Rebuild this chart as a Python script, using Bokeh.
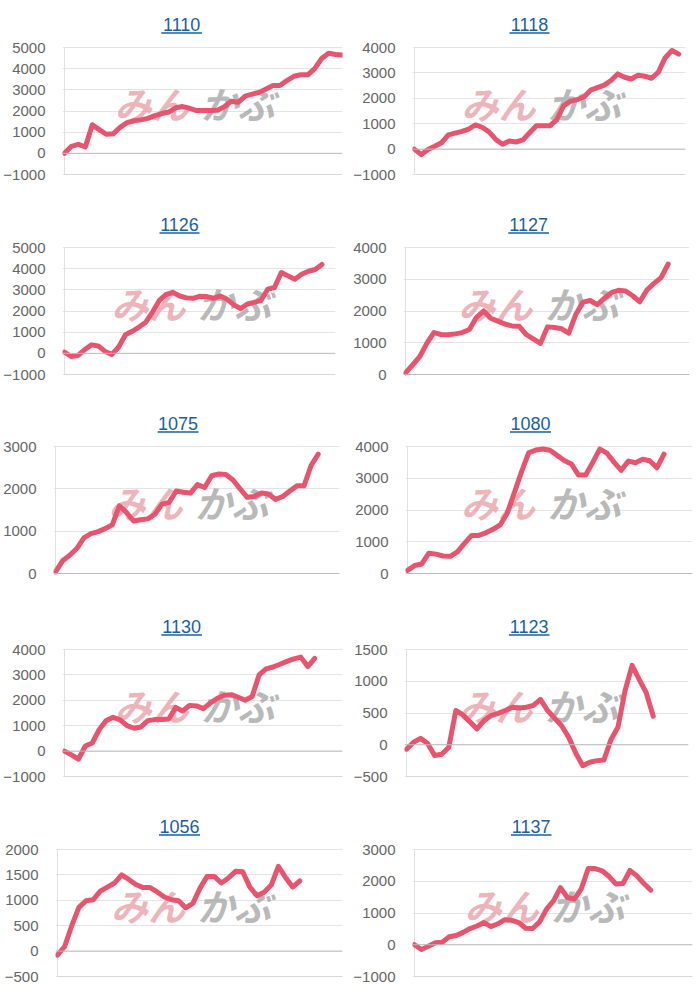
from bokeh.plotting import figure
from bokeh.models import Range1d, FixedTicker, Span
from bokeh.layouts import column, row
from bokeh.embed import file_html
from bokeh.resources import INLINE
from bokeh.core.properties import value

# ---------------- data ----------------
titles = ["1110", "1118", "1126", "1127", "1075", "1080", "1130", "1123", "1056", "1137"]

s1110 = [0, 330, 420, 300, 1350, 1120, 900, 920, 1230, 1450, 1540, 1580, 1650, 1780, 1880,
         1950, 2150, 2210, 2130, 2020, 2020, 2020, 2040, 2200, 2460, 2410, 2700, 2800, 2880,
         3040, 3200, 3200, 3440, 3640, 3710, 3710, 4000, 4480, 4730, 4670, 4650]
s1118 = [0, -220, -20, 110, 250, 560, 630, 700, 790, 950, 860, 680, 380, 190, 320, 280, 360,
         640, 920, 920, 920, 1150, 1700, 1880, 1950, 2050, 2320, 2420, 2520, 2700, 2960, 2830,
         2760, 2910, 2870, 2790, 3030, 3600, 3880, 3740]
s1126 = [60, -150, -100, 180, 400, 350, 90, -50, 300, 880, 1040, 1240, 1470, 1950, 2500, 2780,
         2880, 2710, 2620, 2600, 2700, 2680, 2600, 2710, 2550, 2290, 2110, 2330, 2410, 2500,
         3030, 3110, 3820, 3660, 3500, 3740, 3880, 3960, 4200]
s1127 = [50, 300, 560, 980, 1320, 1260, 1250, 1280, 1320, 1420, 1800, 2000, 1770, 1680, 1590,
         1530, 1520, 1260, 1120, 980, 1500, 1480, 1440, 1300, 1900, 2280, 2330, 2200, 2400,
         2580, 2650, 2630, 2480, 2290, 2660, 2870, 3050, 3480]
s1075 = [40, 300, 430, 590, 840, 940, 990, 1060, 1150, 1600, 1440, 1240, 1270, 1290, 1400,
         1640, 1680, 1950, 1920, 1900, 2100, 2030, 2310, 2350, 2340, 2210, 2000, 1800, 1820,
         1900, 1880, 1750, 1820, 1950, 2070, 2070, 2550, 2820]
s1080 = [100, 250, 300, 640, 610, 550, 540, 680, 950, 1200, 1200, 1280, 1390, 1530, 1900,
         2550, 3200, 3800, 3890, 3920, 3880, 3720, 3560, 3450, 3100, 3100, 3500, 3920, 3790,
         3500, 3250, 3540, 3490, 3600, 3550, 3330, 3760]
s1130 = [0, -150, -320, 200, 320, 850, 1200, 1330, 1230, 1000, 900, 950, 1200, 1240, 1240,
         1260, 1720, 1580, 1800, 1780, 1670, 1900, 2080, 2200, 2220, 2120, 2000, 2150, 3000,
         3240, 3310, 3420, 3530, 3630, 3700, 3330, 3650]
s1123 = [-70, 40, 100, 20, -170, -150, -40, 540, 470, 360, 250, 380, 460, 495, 540, 590, 580,
         590, 620, 715, 540, 420, 300, 120, -130, -330, -275, -250, -240, 80, 280, 850, 1250,
         1030, 820, 450]
s1056 = [-80, 90, 500, 860, 990, 1010, 1180, 1260, 1340, 1500, 1410, 1310, 1250, 1250, 1165,
         1065, 1010, 990, 850, 940, 1240, 1470, 1470, 1340, 1440, 1570, 1560, 1260, 1090, 1160,
         1300, 1670, 1450, 1260, 1380]
s1137 = [0, -150, -50, 60, 80, 250, 290, 390, 510, 590, 700, 570, 660, 790, 770, 700, 520, 510,
         720, 1120, 1380, 1800, 1490, 1440, 1760, 2400, 2400, 2330, 2150, 1910, 1930, 2340,
         2170, 1930, 1720]

series = [s1110, s1118, s1126, s1127, s1075, s1080, s1130, s1123, s1056, s1137]

y_min = [-1000, -1000, -1000, 0, 0, 0, -1000, -500, -500, -1000]
y_max = [5000, 4000, 5000, 4000, 3000, 4000, 4000, 1500, 2000, 3000]
y_step = [1000, 1000, 1000, 1000, 1000, 1000, 1000, 500, 500, 1000]
n_slots = 41

# ---------------- layout / style ----------------
frame_left = [62, 57, 57, 53, 54, 57, 62, 53, 57, 61]
frame_right = [8, 15, 15, 11, 11, 8, 8, 12, 8, 8]
row_top = [47, 47, 46, 49, 49]
title_x = [180, 175, 175, 177, 177, 180, 180, 177, 179, 179]

W, H, FH = 350, 200, 127
PAD_L, PAD_B, PAD_T = 2, 16, 4
LINE = "#e8536e"
TITLE_C = "#1a5fa0"
GRID_C = "#e4e4e4"
FONT = "Liberation Sans"
CJK = "Noto Sans CJK JP"


def make(i):
    top = row_top[i // 2]
    pw = W - frame_left[i] - frame_right[i]
    kx = (n_slots - 1) / pw
    ky = (y_max[i] - y_min[i]) / FH
    y_lo = y_min[i] - PAD_B * ky
    y_hi = y_max[i] + (top - PAD_T) * ky
    p = figure(width=W, height=H, output_backend="svg", toolbar_location=None,
               x_axis_location=None,
               x_range=Range1d(-PAD_L * kx, n_slots - 1), y_range=Range1d(y_lo, y_hi),
               min_border_left=frame_left[i] - PAD_L, min_border_right=frame_right[i],
               min_border_top=PAD_T, min_border_bottom=H - top - FH - PAD_B,
               background_fill_color="white", border_fill_color="white")
    p.outline_line_color = None
    p.xgrid.visible = False
    ticks = list(range(y_min[i], y_max[i] + 1, y_step[i]))
    p.yaxis.ticker = FixedTicker(ticks=ticks)
    p.ygrid.ticker = FixedTicker(ticks=ticks)
    p.ygrid.grid_line_color = GRID_C
    p.ygrid.grid_line_width = 1
    ax = p.yaxis[0]
    ax.axis_line_color = None
    ax.major_tick_line_color = None
    ax.minor_tick_line_color = None
    ax.major_label_standoff = 11
    ax.major_label_text_font = FONT
    ax.major_label_text_font_size = "15px"
    ax.major_label_text_color = "#666666"

    # plot-area borders: left axis line, bottom line, zero line
    p.segment(x0=[0], y0=[y_min[i]], x1=[0], y1=[y_max[i]], line_color="#e0e0e0", line_width=1)
    p.quad(left=[0], right=[n_slots - 1], bottom=[y_min[i] - 0.6 * ky],
           top=[y_min[i] + 0.6 * ky], fill_color="#d8d8d8", line_color=None)
    p.add_layout(Span(location=0, dimension="width", line_color="#bdbdbd", line_width=1))

    # watermark (behind the line)
    ym = y_max[i] - 0.44 * (y_max[i] - y_min[i])
    xr = 0.447 * (n_slots - 1)
    xl = 0.49 * (n_slots - 1)
    p.text(x=[xr], y=[ym], text=["みん"], text_font=value(CJK),
           text_font_size="37px", text_font_style="bold italic", text_color="#e8a0a7",
           text_alpha=0.8, text_align="right", text_baseline="middle")
    p.text(x=[xl], y=[ym], text=["かぶ"], text_font=value(CJK),
           text_font_size="37px", text_font_style="bold italic", text_color="#a6a6a6",
           text_alpha=0.8, text_align="left", text_baseline="middle")

    ys = series[i]
    xs = list(range(len(ys)))
    p.line(xs, ys, line_color=LINE, line_width=5, line_join="round", line_cap="round")

    # title, drawn like an underlined link
    tx = (title_x[i] - frame_left[i]) * kx
    p.text(x=[tx], y=[y_max[i] + 23 * ky], text=[titles[i]], text_font=value(FONT),
           text_font_size="18px", text_color=TITLE_C, text_align="center",
           text_baseline="middle")
    p.segment(x0=[tx - 20.5 * kx], y0=[y_max[i] + 14.5 * ky],
              x1=[tx + 20.5 * kx], y1=[y_max[i] + 14.5 * ky],
              line_color=TITLE_C, line_width=1.3)
    return p


figs = [make(i) for i in range(10)]
layout = column(*[row(figs[2 * r], figs[2 * r + 1]) for r in range(5)])

open("out.html", "w").write(file_html(layout, INLINE))
